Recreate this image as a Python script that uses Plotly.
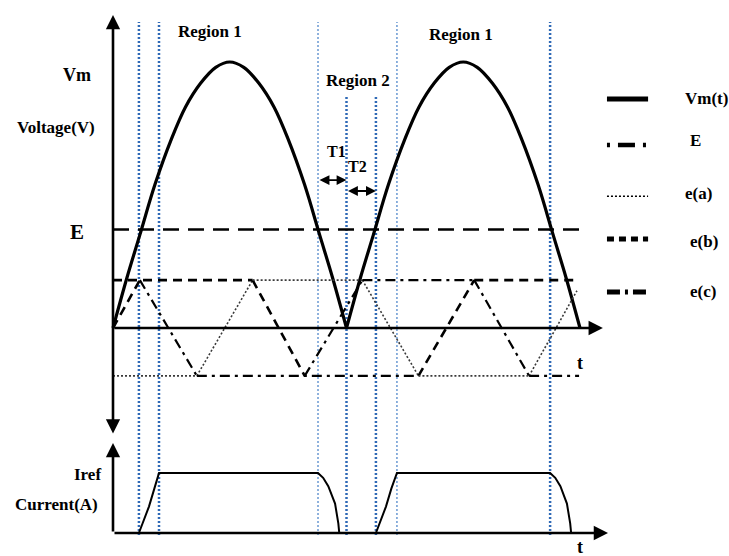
import plotly.graph_objects as go

# ---- waveform data (time in ms, voltage as fraction of Vm, current as fraction of Iref) ----
vm_t_first = [0, 0.6, 1.15, 1.8, 2.5, 3.1, 3.75, 4.4, 5.0, 5.6, 6.25, 6.9, 7.5, 8.2, 8.85, 9.4, 10.0]
vm_t_second = [10.0, 10.6, 11.15, 11.8, 12.5, 13.1, 13.75, 14.4, 15.0, 15.6, 16.25, 16.9, 17.5, 18.2, 18.85, 19.4, 20.0]
vm_values = [0, 0.19, 0.35, 0.54, 0.71, 0.83, 0.92, 0.98, 1.0, 0.98, 0.92, 0.83, 0.71, 0.54, 0.35, 0.19, 0]

E_level = 0.37
E_end = 19.96

carrier_t = [0, 1.15, 3.59, 5.98, 8.21, 10.68, 13.08, 15.47, 17.82, 19.87]
carrier_v = [0, 0.18, -0.18, 0.18, -0.18, 0.18, -0.18, 0.18, -0.18, 0.14]
carrier_styles = ["e(b)", "e(c)", "e(a)", "e(b)", "e(c)", "e(a)", "e(b)", "e(c)", "e(a)"]
carrier_peak = 0.18
peak_line_spans = [(0, 5.98, "e(b)"), (5.98, 10.68, "e(a)"), (10.68, 15.47, "e(c)"), (15.47, 19.96, "e(b)")]
valley_line_spans = [(0, 3.59, "e(a)"), (3.59, 13.08, "e(c)"), (13.08, 17.82, "e(a)"), (17.82, 19.96, "e(c)")]

current_t_first = [1.11, 1.37, 1.54, 1.77, 1.97, 8.78, 9.0, 9.22, 9.51, 9.65, 9.69]
current_t_second = [11.26, 11.52, 11.69, 11.92, 12.16, 18.72, 18.94, 19.16, 19.44, 19.58, 19.62]
current_values = [0, 0.27, 0.44, 0.74, 1.0, 1.0, 0.92, 0.78, 0.49, 0.16, 0]

switch_times = [1.11, 1.97, 8.78, 10.0, 11.26, 12.16, 18.72]
switch_heavy = [True, True, False, True, True, False, True]
switch_tops = [1.15, 1.15, 1.15, 0.868, 0.868, 1.15, 1.15]

legend_names = ["Vm(t)", "E", "e(a)", "e(b)", "e(c)"]

# ---- line styles ----
STYLE = {
    "Vm": dict(color="black", width=3.2, dash="solid"),
    "E": dict(color="black", width=2.5, dash="16px,9px"),
    "e(a)": dict(color="#3a3a3a", width=1.6, dash="2px,2px"),
    "e(b)": dict(color="black", width=2.6, dash="9px,6px"),
    "e(c)": dict(color="black", width=2.2, dash="10px,5px,3px,5px"),
}
SERIF = "Liberation Serif"
BLUE_HEAVY = "#2f69b6"
BLUE_LIGHT = "#5f91cf"

fig = go.Figure()

# supply voltage, one rectified half-wave at a time
for ts in (vm_t_first, vm_t_second):
    fig.add_trace(go.Scatter(x=ts, y=vm_values, mode="lines", line=STYLE["Vm"],
                             line_shape="spline", hoverinfo="skip", showlegend=False))

# E threshold
fig.add_trace(go.Scatter(x=[0, E_end], y=[E_level, E_level], mode="lines",
                         line=STYLE["E"], hoverinfo="skip", showlegend=False))

# triangular carriers
for i, name in enumerate(carrier_styles):
    fig.add_trace(go.Scatter(x=carrier_t[i:i + 2], y=carrier_v[i:i + 2], mode="lines",
                             line=STYLE[name], hoverinfo="skip", showlegend=False))
for t0, t1, name in peak_line_spans:
    fig.add_trace(go.Scatter(x=[t0, t1], y=[carrier_peak, carrier_peak], mode="lines",
                             line=STYLE[name], hoverinfo="skip", showlegend=False))
for t0, t1, name in valley_line_spans:
    fig.add_trace(go.Scatter(x=[t0, t1], y=[-carrier_peak, -carrier_peak], mode="lines",
                             line=STYLE[name], hoverinfo="skip", showlegend=False))

# output current
for ts in (current_t_first, current_t_second):
    fig.add_trace(go.Scatter(x=ts, y=current_values, mode="lines", yaxis="y2",
                             line=dict(color="black", width=2), hoverinfo="skip",
                             showlegend=False))

# switching instants
shapes = []
current_axis_in_volts = -0.778
for t, heavy, top in zip(switch_times, switch_heavy, switch_tops):
    shapes.append(dict(type="line", xref="x", yref="y", x0=t, x1=t,
                       y0=current_axis_in_volts, y1=top, layer="below",
                       line=dict(color=BLUE_HEAVY if heavy else BLUE_LIGHT,
                                 width=2.5 if heavy else 1.4, dash="2px,2px")))

# hand-drawn style legend
legend_rows = [0.822, 0.739, 0.647, 0.570, 0.475]
legend_dash = ["solid", "3px,8px,17px,8px", "2px,2px", "7px,5px", "13px,5px,3px,5px"]
legend_width = [5, 4.5, 1.6, 5, 5]
legend_text_x = [0.937, 0.944, 0.937, 0.944, 0.944]
legend_text_dy = [0, 0.008, 0.005, -0.005, 0]
annotations = []
for name, yy, dsh, w, tx, dy in zip(legend_names, legend_rows, legend_dash, legend_width,
                                     legend_text_x, legend_text_dy):
    shapes.append(dict(type="line", xref="paper", yref="paper", x0=0.8326, x1=0.889,
                       y0=yy, y1=yy, line=dict(color="black", width=w, dash=dsh)))
    annotations.append(dict(xref="paper", yref="paper", x=tx, y=yy + dy, text=name,
                            showarrow=False, xanchor="left", yanchor="middle",
                            font=dict(family=SERIF, size=17, color="black", weight="bold")))

# axes drawn as arrows
def arrow(x, y, ax, ay, yref="y", both=False, width=2.6):
    return dict(x=x, y=y, ax=ax, ay=ay, xref="x", yref=yref, axref="x", ayref=yref,
                text="", showarrow=True, arrowhead=2, arrowsize=1.1, arrowwidth=width,
                arrowcolor="black", arrowside="end+start" if both else "end",
                startarrowhead=2, startarrowsize=1.1)

annotations += [
    arrow(0, 1.177, 0, -0.402, both=True),
    arrow(20.98, 0, 0, 0),
    arrow(0, 1.5, 0, 0, yref="y2"),
    arrow(21.2, 0, 0, 0, yref="y2"),
    arrow(10.0, 0.556, 8.78, 0.556, both=True, width=1.8),
    arrow(11.26, 0.515, 10.0, 0.515, both=True, width=1.8),
]

def label(text, x, y, size=18, yref="y", xanchor="center"):
    return dict(text=text, x=x, y=y, xref="x", yref=yref, showarrow=False,
                xanchor=xanchor, yanchor="middle",
                font=dict(family=SERIF, size=size, color="black", weight="bold"))

annotations += [
    label("Region 1", 4.15, 1.113, size=17),
    label("Region 1", 14.9, 1.105, size=17),
    label("Region 2", 10.5, 0.932, size=17),
    label("Vm", -0.86, 0.95, xanchor="right"),
    label("Voltage(V)", -0.68, 0.752, size=17, xanchor="right"),
    label("E", -1.15, 0.36, size=21, xanchor="right"),
    label("T1", 9.57, 0.662, size=16),
    label("T2", 10.49, 0.609, size=16),
    label("t", 20.0, -0.132, size=18),
    label("Iref", -0.43, 0.967, size=17, yref="y2", xanchor="right"),
    label("Current(A)", -0.56, 0.467, size=17, yref="y2", xanchor="right"),
    label("t", 20.0, -0.24, size=18, yref="y2"),
]

fig.update_layout(
    width=729, height=556,
    margin=dict(l=0, r=0, t=0, b=0),
    paper_bgcolor="white", plot_bgcolor="white",
    xaxis=dict(range=[-113 / 23.35, 616 / 23.35], visible=False, fixedrange=True),
    yaxis=dict(range=[-228 / 266, 328 / 266], visible=False, fixedrange=True),
    yaxis2=dict(range=[-23 / 60, 533 / 60], visible=False, overlaying="y", fixedrange=True),
    shapes=shapes,
    annotations=annotations,
    showlegend=False,
)

fig.write_html("out.html")
